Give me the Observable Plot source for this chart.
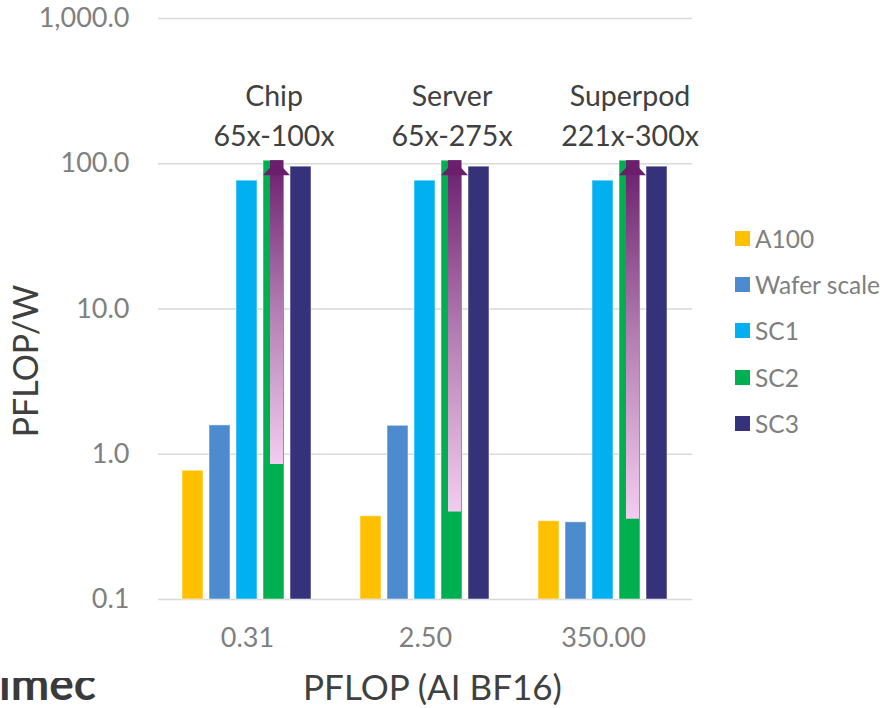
<!DOCTYPE html>
<html><head><meta charset="utf-8">
<script src="https://cdn.jsdelivr.net/npm/d3@7"></script>
<script src="https://cdn.jsdelivr.net/npm/@observablehq/plot@0.6"></script>
<style>
body{margin:0;background:#fff;font-family:Lato, sans-serif;}
#wrap{position:relative;width:885px;height:708px;overflow:hidden;}
#legend{position:absolute;left:735px;top:215px;}
.item{display:flex;align-items:center;height:46.3px;font-size:24.5px;color:#7f7f7f;}
.sw{width:15px;height:15px;margin-right:5px;flex:none;}
#logo{position:absolute;left:-1px;top:678px;height:30px;width:120px;overflow:hidden;}
#logo span{position:absolute;left:0;top:-18px;font-size:46px;line-height:46px;font-weight:700;color:#3a3a3a;}
g[aria-label="y-axis label"] text{font-size:34px;fill:#404040;}
g[aria-label="fx-axis label"] text{font-size:35px;fill:#404040;}
g[aria-label="arrow-shaft"]{filter:drop-shadow(2px 3px 2px rgba(0,0,0,0.35));}
</style>
</head><body>
<div id="wrap"><div id="chart"></div><div id="legend"></div><div id="logo"><span>imec</span></div></div>
<script>
const groups = ["0.31","2.50","350.00"];
const series = ["A100","Wafer scale","SC1","SC2","SC3"];
const colors = ["#FFC000","#4C8BCD","#00B0F0","#00B050","#35327A"];
const a100 = [0.77,0.374,0.346];
const wafer = [1.58,1.57,0.34];
const sc1 = [76.5,76.5,76.5];
const sc2 = [105,105,105];
const sc3 = [95.5,95.5,95.5];
const arrowFrom = [0.85,0.40,0.357];
const labelsTop = ["Chip","Server","Superpod"];
const labelsGain = ["65x-100x","65x-275x","221x-300x"];
const yTicks = [0.1,1,10,100,1000];
const yMin = yTicks[0], yMax = yTicks[yTicks.length-1];

const seriesValues = [a100,wafer,sc1,sc2,sc3];
const rows = [];
groups.forEach((g,i)=>series.forEach((s,j)=>rows.push({group:g, series:s, value:seriesValues[j][i]})));
const arrows = groups.map((g,i)=>({group:g, series:"SC2", from:arrowFrom[i], to:sc2[i]}));
const notes = groups.map((g,i)=>({group:g, series:"SC2", to:sc2[i], text: labelsTop[i]+"\n"+labelsGain[i]}));

const head = {draw(ctx){ ctx.moveTo(0,0); ctx.lineTo(13.5,14.5); ctx.lineTo(-13.5,14.5); ctx.closePath(); }};

const chart = Plot.plot({
  width:885, height:708,
  marginLeft:157, marginRight:192, marginTop:18, marginBottom:109,
  style:{fontFamily:"Lato, sans-serif", background:"#fff", overflow:"visible"},
  fx:{domain:groups, padding:0, label:"PFLOP (AI BF16)"},
  x:{domain:series, paddingInner:0.206, paddingOuter:0.83, axis:null},
  y:{type:"log", domain:[yMin,yMax], label:"PFLOP/W"},
  color:{domain:series, range:colors},
  marks:[
    Plot.ruleY(yTicks, {stroke:"#D9D9D9", strokeWidth:1.5}),
    Plot.axisY(yTicks, {tickFormat:d3.format(",.1f"), tickSize:0, tickPadding:29, fill:"#7f7f7f", fontSize:27, label:"PFLOP/W", labelAnchor:"center", labelOffset:145, labelArrow:"none"}),
    Plot.axisFx({anchor:"bottom", tickSize:0, tickPadding:28, fontSize:27, fill:"#7f7f7f", label:"PFLOP (AI BF16)", labelAnchor:"center", labelOffset:100, labelArrow:"none"}),
    Plot.barY(rows, {fx:"group", x:"series", y1:yMin, y2:"value", fill:"series", stroke:"white", strokeOpacity:0.5, strokeWidth:1}),
    Plot.barY(arrows, {fx:"group", x:"series", y1:"from", y2:"to", fill:"url(#arrowGrad)", insetLeft:7, insetRight:1, ariaLabel:"arrow-shaft"}),
    Plot.dot(arrows, {fx:"group", x:"series", y:"to", symbol:head, fill:"#6B1F6B", dx:2.5}),
    Plot.text(notes, {fx:"group", x:"series", y:"to", dy:-15, text:"text", lineAnchor:"bottom", fontSize:28.5, fill:"#404040", lineHeight:1.4})
  ]
});
d3.select(chart).append("defs").html(
  '<linearGradient id="arrowGrad" x1="0" y1="1" x2="0" y2="0">' +
  '<stop offset="0" stop-color="#F2CDEF"/><stop offset="0.5" stop-color="#B47FB3"/><stop offset="1" stop-color="#6A1E6C"/></linearGradient>');
// shift the axis titles to where the reference places them
d3.select(chart).selectAll('g[aria-label="y-axis label"] text').each(function(){
  const t = d3.select(this), tr = t.attr("transform") || "";
  t.attr("transform", tr.replace(/translate\(([^,\s]+)[,\s]+([^)]+)\)/, (m,a,b)=>`translate(${a},${+b+52})`));
});
d3.select(chart).selectAll('g[aria-label="fx-axis label"] text').each(function(){
  const t = d3.select(this), tr = t.attr("transform") || "";
  t.attr("transform", tr.replace(/translate\(([^,\s]+)[,\s]+([^)]+)\)/, (m,a,b)=>`translate(${+a+7},${b})`));
});
document.getElementById("chart").appendChild(chart);

const legend = d3.select("#legend");
series.forEach((s,i)=>{
  const it = legend.append("div").attr("class","item");
  it.append("div").attr("class","sw").style("background",colors[i]);
  it.append("span").text(s);
});
</script>
</body></html>
